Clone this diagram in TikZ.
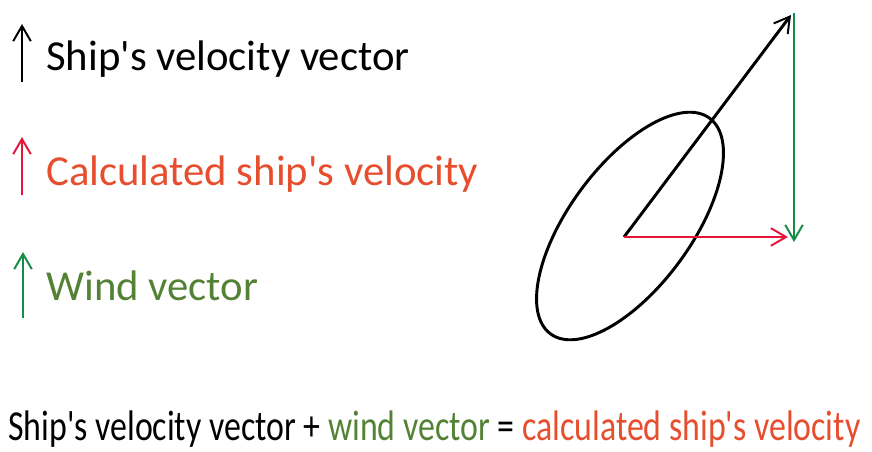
\documentclass[tikz,border=0pt]{standalone}
\usepackage{fontspec}
\setmainfont{Carlito}[Ligatures=TeXOff]
\usetikzlibrary{arrows.meta}
\definecolor{shipblack}{RGB}{0,0,0}
\definecolor{calcred}{RGB}{228,22,58}
\definecolor{calctext}{RGB}{230,78,46}
\definecolor{windgreen}{RGB}{22,140,70}
\definecolor{windtext}{RGB}{84,130,53}

\begin{document}
\begin{tikzpicture}[
    >={Straight Barb[length=0.38cm, width=0.44cm, line width=1.4pt]},
    legendarrow/.style={->, line width=1.4pt},
    legendtext/.style={anchor=base west, inner sep=0pt, font=\fontsize{30.4}{36}\selectfont},
    vecline/.style={->, line width=2.1pt}
]

% Canvas
\useasboundingbox (0,0) rectangle (21.8,11.275);

% 1. LEGEND
\draw[legendarrow, shipblack] (0.55,9.225) coordinate (legS0) -- (0.55,10.675) coordinate (legS1);
\node[legendtext, text=shipblack] (legShip) at (1.15,9.525) {Ship's velocity vector};

\draw[legendarrow, calcred] (0.55,6.4) coordinate (legC0) -- (0.55,7.85) coordinate (legC1);
\node[legendtext, text=calctext] (legCalc) at (1.15,6.65) {Calculated ship's velocity};

\draw[legendarrow, windgreen] (0.575,3.325) coordinate (legW0) -- (0.575,4.975) coordinate (legW1);
\node[legendtext, text=windtext] (legWind) at (1.15,3.775) {Wind vector};

% 2. SHIP (tilted ellipse)
\draw[shipblack, line width=2.1pt, rotate around={53.6:(15.75,5.625)}] (15.75,5.625) ellipse (3.35cm and 1.525cm);

% 3. VECTORS
\coordinate (O) at (15.6,5.35);
\coordinate (shipTip) at (19.775,10.9);
\coordinate (windTop) at (19.85,10.95);
\coordinate (windTip) at (19.85,5.225);
\coordinate (calcTip) at (19.7,5.35);

\draw[vecline, shipblack] (O) -- (shipTip);
\draw[vecline, windgreen] (windTop) -- (windTip);
\draw[vecline, calcred] (O) -- (calcTip);

% 4. EQUATION (squeezed sideways)
\node[legendtext, xscale=0.792, transform shape] (eqn) at (0.2,0.26) {Ship's velocity vector + \textcolor{windtext}{wind vector} = \textcolor{calctext}{calculated ship's velocity}};

\end{tikzpicture}
\end{document}
